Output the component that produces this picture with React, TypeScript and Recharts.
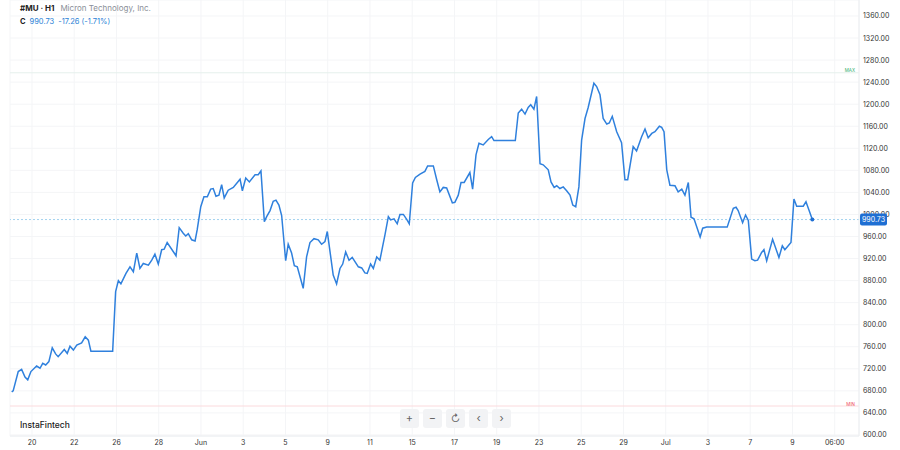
import React from 'react';
import { LineChart, Line, XAxis, YAxis, CartesianGrid, ReferenceLine } from 'recharts';

// trading-day offset from May 20 (hourly bars, weekends skipped)
const dayIdx = [
  -0.96, -0.89, -0.65, -0.49, -0.33, -0.2, -0.05, 0.22, 0.38, 0.51, 0.65, 0.8, 0.96, 1.12, 1.24, 1.53, 1.67, 1.8, 1.96, 2.12,
  2.35, 2.52, 2.67, 2.79, 3.82, 3.96, 4.09, 4.21, 4.45, 4.64, 4.8, 4.96, 5.11, 5.27, 5.51, 5.67, 5.82, 5.98, 6.14, 6.26,
  6.4, 6.82, 6.97, 7.16, 7.28, 7.4, 7.56, 7.72, 7.82, 7.99, 8.14, 8.3, 8.46, 8.58, 8.71, 8.85, 8.98, 9.1, 9.29, 9.53,
  9.85, 9.96, 10.12, 10.29, 10.56, 10.71, 10.84, 11.0, 11.11, 11.27, 11.42, 11.55, 11.69, 11.82, 12.01, 12.13, 12.29, 12.42, 12.56, 12.84,
  13.0, 13.16, 13.35, 13.55, 13.71, 13.87, 13.98, 14.26, 14.42, 14.58, 14.71, 14.85, 15.01, 15.16, 15.45, 15.61, 15.76, 15.87, 16.03, 16.16,
  16.32, 16.47, 16.6, 16.71, 16.87, 16.98, 17.14, 17.29, 17.42, 17.58, 17.74, 17.86, 18.02, 18.15, 18.37, 18.6, 18.73, 19.0, 19.16, 19.31,
  19.47, 19.63, 19.9, 20.02, 20.18, 20.31, 20.46, 20.73, 20.86, 21.02, 21.16, 21.36, 21.6, 21.76, 21.87, 22.88, 23.02, 23.18, 23.34, 23.49,
  23.61, 23.76, 23.89, 24.05, 24.2, 24.44, 24.57, 24.72, 24.84, 24.99, 25.15, 25.31, 25.47, 25.6, 25.74, 25.89, 26.02, 26.18, 26.33, 26.6,
  26.73, 26.89, 27.04, 27.21, 27.33, 27.47, 27.68, 27.91, 28.07, 28.2, 28.46, 28.62, 28.86, 29.02, 29.17, 29.34, 29.49, 29.7, 29.81, 29.92,
  30.05, 30.2, 30.44, 30.59, 30.76, 30.91, 31.07, 31.2, 31.34, 31.63, 31.75, 31.94, 32.91, 33.2, 33.33, 33.43, 33.64, 33.78, 33.91, 34.07,
  34.22, 34.35, 34.54, 34.65, 34.78, 35.06, 35.36, 35.52, 35.64, 35.93, 36.07, 36.2, 36.51, 36.64, 36.78, 36.94,
];

const closes = [
  678, 680, 715, 719, 705, 700, 715, 725, 721, 730, 727, 733, 758, 747, 742, 755, 748, 761, 754, 763,
  767, 778, 772, 752, 752, 860, 880, 874, 893, 905, 896, 930, 902, 911, 908, 917, 928, 910, 936, 937,
  949, 925, 976, 966, 961, 965, 954, 952, 972, 1014, 1032, 1032, 1046, 1047, 1033, 1035, 1054, 1030, 1044, 1049,
  1064, 1043, 1066, 1059, 1072, 1072, 1079, 987, 996, 1007, 1024, 1026, 1017, 998, 916, 946, 930, 907, 905, 866,
  923, 949, 956, 954, 946, 951, 969, 890, 874, 902, 910, 932, 917, 922, 905, 903, 894, 893, 910, 902,
  923, 917, 942, 963, 996, 990, 992, 983, 1000, 1000, 991, 983, 1057, 1067, 1073, 1078, 1088, 1088, 1063, 1041,
  1049, 1048, 1021, 1022, 1035, 1058, 1058, 1076, 1046, 1108, 1129, 1126, 1136, 1141, 1134, 1134, 1184, 1191, 1182, 1194,
  1199, 1191, 1214, 1092, 1090, 1081, 1059, 1049, 1052, 1047, 1050, 1043, 1035, 1017, 1014, 1050, 1135, 1174, 1194, 1238,
  1232, 1217, 1174, 1164, 1166, 1178, 1150, 1130, 1063, 1063, 1123, 1115, 1141, 1155, 1139, 1147, 1150, 1160, 1158, 1150,
  1081, 1053, 1052, 1041, 1046, 1035, 1058, 995, 992, 959, 975, 977, 977, 1011, 1013, 1007, 985, 999, 989, 919,
  916, 917, 931, 936, 916, 955, 922, 943, 936, 949, 1028, 1015, 1015, 1023, 1008, 990.73,
];

const xTicks = [0, 2, 4, 6, 8, 10, 12, 14, 16, 18, 20, 22, 24, 26, 28, 30, 32, 34, 36, 38];
const xLabels = ['20', '22', '26', '28', 'Jun', '3', '5', '9', '11', '15', '17', '19', '23', '25', '29', 'Jul', '3', '7', '9', '06:00'];
const yTicks = [600, 640, 680, 720, 760, 800, 840, 880, 920, 960, 1000, 1040, 1080, 1120, 1160, 1200, 1240, 1280, 1320, 1360];

const lastPrice = 990.73;
const maxLevel = 1257;
const minLevel = 652.5;

const yDomain: [number, number] = [598.1, 1389.0];

const data = dayIdx.map((t, i) => ({ t, c: closes[i] }));

const font = 'Inter, "Noto Sans", sans-serif';

const btnStyle: React.CSSProperties = {
  position: 'absolute',
  top: 409,
  width: 19,
  height: 19,
  background: '#f2f3f5',
  borderRadius: 3,
  color: '#666',
  fontSize: 11,
  lineHeight: '19px',
  textAlign: 'center',
};

// last-price tag drawn as the only tick of a thin extra axis, so it sits on top of the price ticks
const PriceTag = (props: any) => {
  const { y, payload } = props;
  return (
    <g>
      <rect x={860} y={y - 6} width={27} height={12} rx={2} fill="#1f6fd3" />
      <text x={873.5} y={y + 2.5} fontSize={7} fill="#fff" textAnchor="middle" fontFamily={font}>
        {Number(payload.value).toFixed(2)}
      </text>
    </g>
  );
};

const App = () => {
  const lastIdx = data.length - 1;
  return (
    <div style={{ position: 'absolute', left: 0, top: 0, width: 900, height: 450, background: '#fff', fontFamily: font }}>
      <LineChart width={900} height={450} data={data} margin={{ top: 0, right: 0, left: 10, bottom: 0 }} style={{ fontFamily: font }}>
        <CartesianGrid stroke="#f4f5f7" vertical horizontal />
        <XAxis
          dataKey="t"
          type="number"
          domain={[-1.04, 39.15]}
          ticks={xTicks}
          interval={0}
          tickFormatter={(v) => xLabels[xTicks.indexOf(v)]}
          height={14}
          tickLine={false}
          tickSize={0}
          tickMargin={4}
          axisLine={{ stroke: '#eceef1' }}
          tick={{ fontSize: 7, fill: '#333' }}
          allowDataOverflow
        />
        <YAxis
          orientation="right"
          type="number"
          domain={yDomain}
          ticks={yTicks}
          interval={0}
          tickFormatter={(v) => v.toFixed(2)}
          width={40}
          tickLine={false}
          tickSize={0}
          tickMargin={4}
          axisLine={{ stroke: '#eceef1' }}
          tick={{ fontSize: 7, fill: '#333', textAnchor: 'start' }}
          allowDataOverflow
        />
        <YAxis
          yAxisId="tag"
          orientation="right"
          type="number"
          domain={yDomain}
          ticks={[lastPrice]}
          interval={0}
          width={1}
          tickLine={false}
          axisLine={false}
          tick={(p: any) => <PriceTag {...p} />}
          allowDataOverflow
        />
        <ReferenceLine
          y={maxLevel}
          stroke="#e6f1ec"
          label={(p: any) => (
            <text x={855} y={p.viewBox.y - 1} fontSize={4.5} fill="#2fae6b" textAnchor="end" fontFamily={font}>
              MAX
            </text>
          )}
        />
        <ReferenceLine
          y={minLevel}
          stroke="#fbdadd"
          label={(p: any) => (
            <text x={855} y={p.viewBox.y - 0.5} fontSize={4.5} fill="#ee4b5b" textAnchor="end" fontFamily={font}>
              MIN
            </text>
          )}
        />
        <ReferenceLine y={lastPrice} stroke="#a3d2ef" strokeDasharray="2 2" />
        <Line
          type="linear"
          dataKey="c"
          stroke="#2f80dd"
          strokeWidth={1.5}
          isAnimationActive={false}
          dot={(p: any) =>
            p.index === lastIdx ? <circle key="last" cx={p.cx} cy={p.cy} r={2} fill="#1f6fd3" /> : <g key={p.index} />
          }
          activeDot={false}
        />
      </LineChart>

      <div style={{ position: 'absolute', left: 20, top: 3, fontSize: 8, whiteSpace: 'nowrap', lineHeight: '10px' }}>
        <span style={{ fontWeight: 700, color: '#222' }}>#MU · H1</span>
        <span style={{ color: '#8a8f98', marginLeft: 6 }}>Micron Technology, Inc.</span>
      </div>
      <div style={{ position: 'absolute', left: 20, top: 17, fontSize: 7.5, whiteSpace: 'nowrap', lineHeight: '10px' }}>
        <span style={{ fontWeight: 700, color: '#222' }}>C</span>
        <span style={{ color: '#2a7fd6', marginLeft: 4 }}>990.73</span>
        <span style={{ color: '#2a7fd6', marginLeft: 4 }}>-17.26 (-1.71%)</span>
      </div>

      <div style={{ position: 'absolute', left: 20, top: 420, fontSize: 8.5, fontWeight: 500, color: '#222' }}>InstaFintech</div>

      <div style={{ ...btnStyle, left: 400 }}>+</div>
      <div style={{ ...btnStyle, left: 423 }}>−</div>
      <div style={{ ...btnStyle, left: 446, fontSize: 10 }}>↻</div>
      <div style={{ ...btnStyle, left: 469 }}>‹</div>
      <div style={{ ...btnStyle, left: 492 }}>›</div>
    </div>
  );
};

export default App;
